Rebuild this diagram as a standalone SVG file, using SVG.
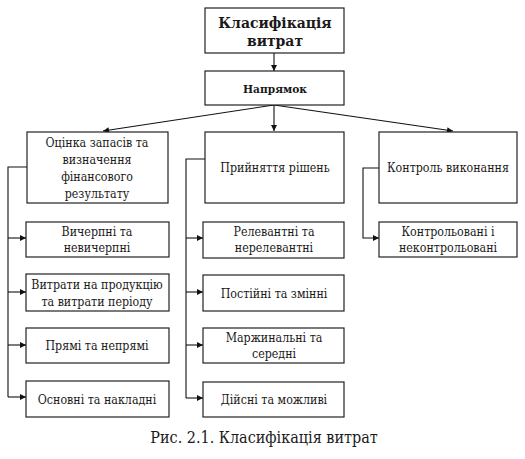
<svg xmlns="http://www.w3.org/2000/svg" width="525" height="459" viewBox="0 0 525 459">
<defs>
<marker id="ah" viewBox="0 0 10 10" refX="10" refY="5" markerWidth="9" markerHeight="6" markerUnits="userSpaceOnUse" orient="auto">
<path d="M0,0 L10,5 L0,10 z" fill="#111"/>
</marker>
<style>
.box{fill:#fff;stroke:#222;stroke-width:1.2}
.t{font-size:12.3px;fill:#1a1a1a;text-anchor:middle}
.b{font-weight:bold}
.h{font-size:15.5px}
.n{font-size:11.8px}
.cap{font-size:16px}
.c{fill:none;stroke:#111;stroke-width:1.1}
</style>
</defs>
<rect width="525" height="459" fill="#fff"/>
<g id="connectors">
<line class="c" x1="274" y1="53" x2="274" y2="71" marker-end="url(#ah)"/>
<line class="c" x1="274" y1="105" x2="103" y2="131" marker-end="url(#ah)"/>
<line class="c" x1="274" y1="105" x2="274" y2="131" marker-end="url(#ah)"/>
<line class="c" x1="274" y1="105" x2="453" y2="131" marker-end="url(#ah)"/>
<polyline class="c" points="27,167 8,167 8,397"/>
<line class="c" x1="8" y1="238" x2="26" y2="238" marker-end="url(#ah)"/>
<line class="c" x1="8" y1="292" x2="26" y2="292" marker-end="url(#ah)"/>
<line class="c" x1="8" y1="345" x2="26" y2="345" marker-end="url(#ah)"/>
<line class="c" x1="8" y1="397" x2="26" y2="397" marker-end="url(#ah)"/>
<polyline class="c" points="205,159 186,159 186,398"/>
<line class="c" x1="186" y1="238" x2="203" y2="238" marker-end="url(#ah)"/>
<line class="c" x1="186" y1="292" x2="203" y2="292" marker-end="url(#ah)"/>
<line class="c" x1="186" y1="345" x2="203" y2="345" marker-end="url(#ah)"/>
<line class="c" x1="186" y1="398" x2="203" y2="398" marker-end="url(#ah)"/>
<polyline class="c" points="379,168 363,168 363,238 379,238" marker-end="url(#ah)"/>
</g>
<g font-family="DejaVu Serif Condensed, DejaVu Serif, serif">
<g id="root">
<rect class="box" x="205" y="8" width="139" height="45" stroke-width="1.6"/>
<text class="t b h" x="275" y="28">Класифікація</text>
<text class="t b h" x="275" y="46">витрат</text>
</g>
<g id="napriamok">
<rect class="box" x="205" y="71" width="139" height="34"/>
<text class="t b n" x="275" y="93">Напрямок</text>
</g>
<g id="otsinka">
<rect class="box" x="27" y="132" width="141" height="71"/>
<text class="t" x="97" y="147">Оцінка запасів та</text>
<text class="t" x="97" y="164">визначення</text>
<text class="t" x="97" y="181">фінансового</text>
<text class="t" x="97" y="198">результату</text>
</g>
<g id="pryiniattia">
<rect class="box" x="205" y="132" width="139" height="71"/>
<text class="t" x="275" y="172">Прийняття рішень</text>
</g>
<g id="kontrol">
<rect class="box" x="379" y="132" width="138" height="71"/>
<text class="t" x="448" y="172">Контроль виконання</text>
</g>
<g id="vycherpni">
<rect class="box" x="26" y="222" width="143" height="35"/>
<text class="t" x="97" y="236">Вичерпні та</text>
<text class="t" x="97" y="252">невичерпні</text>
</g>
<g id="vytraty">
<rect class="box" x="26" y="274" width="143" height="37"/>
<text class="t" x="97" y="289">Витрати на продукцію</text>
<text class="t" x="97" y="306">та витрати періоду</text>
</g>
<g id="priami">
<rect class="box" x="26" y="328" width="143" height="35"/>
<text class="t" x="97" y="350">Прямі та непрямі</text>
</g>
<g id="osnovni">
<rect class="box" x="26" y="381" width="143" height="36"/>
<text class="t" x="97" y="404">Основні та накладні</text>
</g>
<g id="relevantni">
<rect class="box" x="203" y="222" width="141" height="36"/>
<text class="t" x="274" y="236">Релевантні та</text>
<text class="t" x="274" y="252">нерелевантні</text>
</g>
<g id="postiini">
<rect class="box" x="203" y="275" width="141" height="36"/>
<text class="t" x="274" y="298">Постійні та змінні</text>
</g>
<g id="marzhynalni">
<rect class="box" x="203" y="328" width="141" height="35"/>
<text class="t" x="274" y="342">Маржинальні та</text>
<text class="t" x="274" y="358">середні</text>
</g>
<g id="diisni">
<rect class="box" x="203" y="382" width="141" height="35"/>
<text class="t" x="274" y="404">Дійсні та можливі</text>
</g>
<g id="kontrolovani">
<rect class="box" x="379" y="222" width="138" height="35"/>
<text class="t" x="448" y="236">Контрольовані і</text>
<text class="t" x="448" y="252">неконтрольовані</text>
</g>
<text class="t cap" x="264" y="443">Рис. 2.1. Класифікація витрат</text>
</g>
</svg>
